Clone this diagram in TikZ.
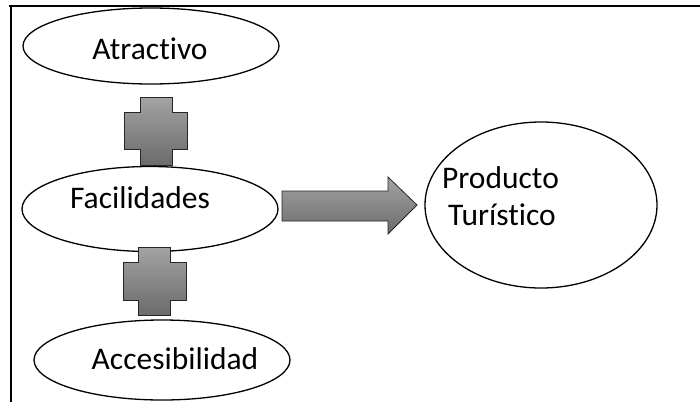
\documentclass[tikz,border=0pt]{standalone}
\usepackage{fontspec}
\setmainfont{Carlito}[RawFeature=-liga]
\usetikzlibrary{shapes.geometric}
\begin{document}
\begin{tikzpicture}[x=1pt,y=-1pt,
  oval/.style={draw, ellipse, line width=1.3pt, inner sep=0pt},
  txt/.style={font=\fontsize{31.5}{38}\selectfont, inner sep=0pt},
  solid shape/.style={draw=black!85, line width=0.8pt, top color=black!36, bottom color=black!58}]
\useasboundingbox (0,0) rectangle (700,402);
% frame
\draw[line width=1.8pt] (9,6) -- (700,6);
\draw[line width=1.3pt] (11,6) -- (11,402);
% ellipses
\node[oval, minimum width=256pt, minimum height=76pt] (atr) at (151,46) {};
\node[oval, minimum width=256pt, minimum height=85pt] (fac) at (150,209) {};
\node[oval, minimum width=256pt, minimum height=80pt] (acc) at (162,360) {};
\node[oval, minimum width=232pt, minimum height=166pt] (prod) at (541,205) {};
% texts
\node[txt] (tatr) at (150,49) {Atractivo};
\node[txt] (tfac) at (140,198) {Facilidades};
\node[txt] (tacc) at (175,359) {Accesibilidad};
\node[txt, anchor=base west] (tprod1) at (442,188) {Producto};
\node[txt, anchor=base west] (tprod2) at (448,225) {Turístico};
% plus signs
\draw[solid shape] (140,97) -- (172,97) -- (172,112) -- (187,112) -- (187,149) -- (172,149)
  -- (172,165) -- (140,165) -- (140,149) -- (124,149) -- (124,112) -- (140,112) -- cycle;
\draw[solid shape] (138,247) -- (170,247) -- (170,262) -- (186,262) -- (186,300) -- (170,300)
  -- (170,315) -- (138,315) -- (138,300) -- (123,300) -- (123,262) -- (138,262) -- cycle;
% block arrow
\draw[solid shape] (282,191) -- (388,191) -- (388,177) -- (417,205) -- (388,234) -- (388,221)
  -- (282,221) -- cycle;
\end{tikzpicture}
\end{document}
